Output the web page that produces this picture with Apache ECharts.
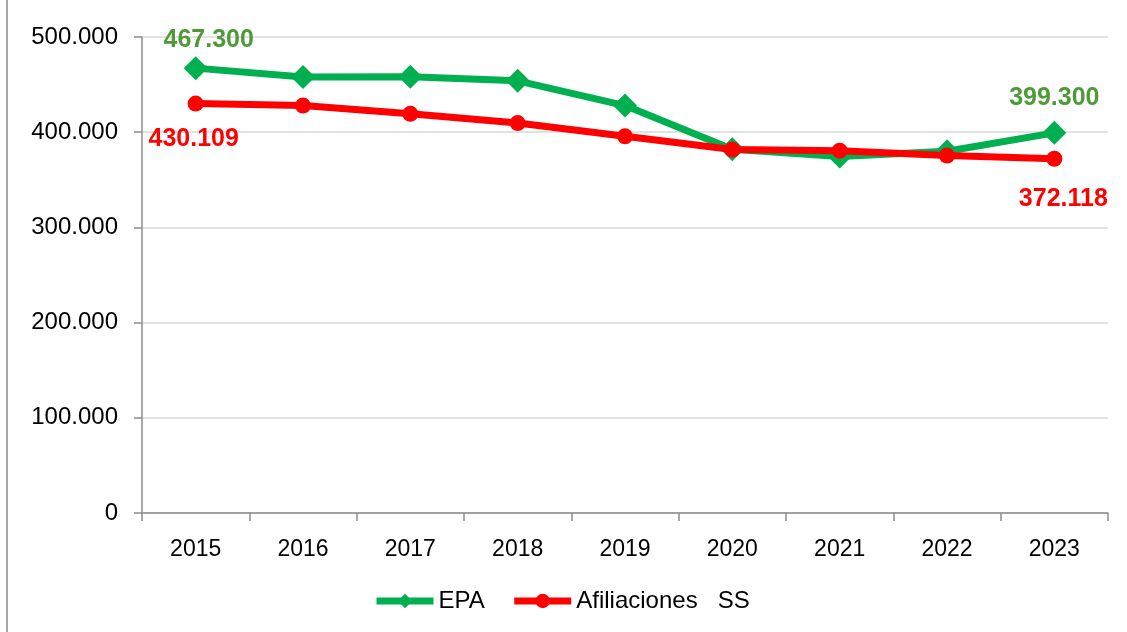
<!DOCTYPE html>
<html lang="es">
<head>
<meta charset="utf-8" />
<title>EPA vs Afiliaciones SS</title>
<style>
  html, body { margin: 0; padding: 0; background: #fff; }
  #main { width: 1127px; height: 632px; }
</style>
</head>
<body>
<div id="main"></div>
<script src="https://cdn.jsdelivr.net/npm/echarts@6/dist/echarts.min.js"></script>
<script>
// datos (personas)
var years = ['2015', '2016', '2017', '2018', '2019', '2020', '2021', '2022', '2023'];
var epa = [467300, 458000, 458200, 454000, 428000, 382000, 374500, 380000, 399300];
var afiliaciones = [430109, 428000, 419300, 409600, 395700, 381800, 380600, 375400, 372118];
var yTicks = [0, 100000, 200000, 300000, 400000, 500000];

// 467300 -> "467.300"
function fmt(v) {
  return String(Math.round(v)).replace(/\B(?=(\d{3})+(?!\d))/g, '.');
}

// solo primer y último punto llevan etiqueta
function withLabels(values, color, firstOffset, lastOffset, pos) {
  return values.map(function (v, i) {
    if (i === 0 || i === values.length - 1) {
      return {
        value: v,
        label: {
          show: true,
          position: pos,
          offset: i === 0 ? firstOffset : lastOffset,
          formatter: function (p) { return fmt(p.value); },
          color: color,
          fontSize: 25,
          fontWeight: 'bold',
          fontFamily: 'Liberation Sans, Arial, sans-serif'
        }
      };
    }
    return v;
  });
}

var chart = echarts.init(document.getElementById('main'));

var option = {
  animation: false,
  textStyle: { fontFamily: 'Liberation Sans, Arial, sans-serif' },
  grid: { left: 142, right: 19, top: 37, bottom: 119 },
  graphic: [{
    type: 'line',
    shape: { x1: 7, y1: 0, x2: 7, y2: 632 },
    style: { stroke: '#8c8c8c', lineWidth: 1.5 }
  }],
  legend: {
    left: 373,
    top: 589,
    padding: 0,
    itemWidth: 57,
    itemHeight: 18,
    itemGap: 26,
    lineStyle: { width: 7 },
    textStyle: { fontSize: 24, color: '#000' },
    data: ['EPA', 'Afiliaciones   SS']
  },
  xAxis: {
    type: 'category',
    data: years,
    boundaryGap: true,
    axisLine: { lineStyle: { color: '#8c8c8c', width: 1.5 } },
    axisTick: { show: true, length: 8, lineStyle: { color: '#8c8c8c', width: 1.5 } },
    axisLabel: { fontSize: 23, color: '#000', margin: 25 }
  },
  yAxis: {
    type: 'value',
    min: yTicks[0],
    max: yTicks[yTicks.length - 1],
    interval: 100000,
    axisLine: { show: true, lineStyle: { color: '#8c8c8c', width: 1.5 } },
    axisTick: { show: true, length: 8, lineStyle: { color: '#8c8c8c', width: 1.5 } },
    splitLine: { lineStyle: { color: '#d9d9d9', width: 1.5 } },
    axisLabel: { fontSize: 24, color: '#000', margin: 24, formatter: fmt }
  },
  series: [
    {
      name: 'EPA',
      type: 'line',
      data: withLabels(epa, '#4e9a38', [13, 1], [0, -5], 'top'),
      symbol: 'diamond',
      symbolSize: 24,
      lineStyle: { color: '#00b050', width: 7 },
      itemStyle: { color: '#00b050' },
      z: 2
    },
    {
      name: 'Afiliaciones   SS',
      type: 'line',
      data: withLabels(afiliaciones, '#ff0000', [-2, 10], [9, 15], 'bottom'),
      symbol: 'circle',
      symbolSize: 16,
      lineStyle: { color: '#ff0000', width: 7 },
      itemStyle: { color: '#ff0000' },
      z: 3
    }
  ]
};

chart.setOption(option);
</script>
</body>
</html>
